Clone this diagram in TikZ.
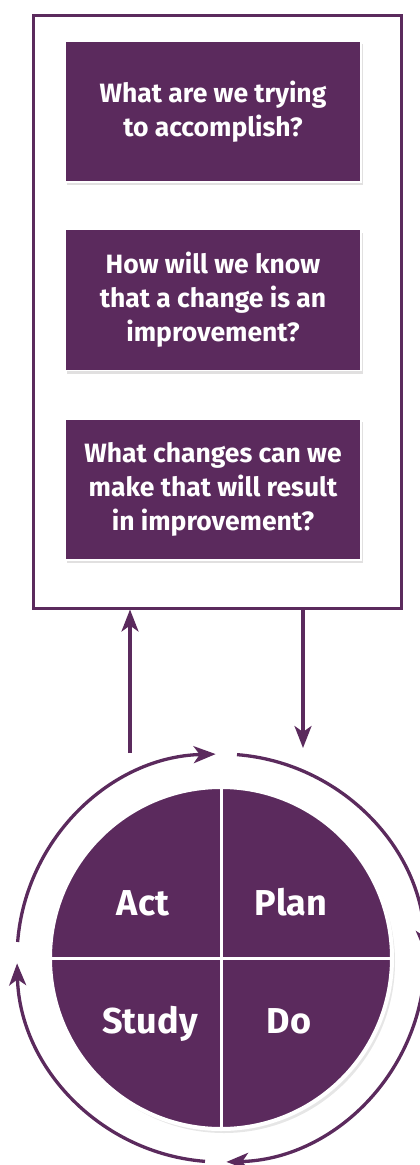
\documentclass[tikz,border=0pt]{standalone}
\usepackage{fontspec}
\setmainfont{Fira Sans}
\usepackage{xcolor}
\usepackage{tikz}
\usetikzlibrary{arrows.meta,positioning,shadows}
\definecolor{ihipurple}{HTML}{5B2A5D}
\definecolor{ihishade}{HTML}{9C9B9B}

\tikzset{
  modelframe/.style={draw=ihipurple, line width=3pt, fill=white,
    minimum width=368, minimum height=593, inner sep=0pt},
  question/.style={fill=ihipurple, draw=white, line width=1.5pt, text=white,
    minimum width=296, minimum height=141, inner sep=0pt, align=center,
    font=\bfseries\fontsize{26.5}{34}\selectfont,
    drop shadow={shadow xshift=2pt, shadow yshift=-3pt, opacity=.3, fill=ihishade}},
  wheel/.style={circle, fill=ihipurple, draw=white, line width=4pt,
    minimum size=342, inner sep=0pt,
    drop shadow={shadow xshift=3pt, shadow yshift=-4pt, opacity=.25, fill=ihishade}},
  quadlabel/.style={text=white, anchor=base, font=\bfseries\fontsize{36}{40}\selectfont},
  flow/.style={ihipurple, line width=3.3pt,
    -{Stealth[length=22pt, width=17pt, inset=6pt]}},
}

\begin{document}
\begin{tikzpicture}[x=1pt,y=1pt]
    \path[use as bounding box, clip] (0,0) rectangle (420,-1165);
    % model for improvement: three questions in a frame
    \node[modelframe] (model) at (217,-311.5) {};
    \node[question] (aim) at (213,-111.5) {What are we trying\\to accomplish?};
    \node[question, below=46pt of aim] (measure) {How will we know\\that a change is an\\improvement?};
    \node[question, below=47pt of measure] (change) {What changes can we\\make that will result\\in improvement?};
    % pdsa wheel
    \node[wheel] (pdsa) at (221,-958) {};
    \draw[white, line width=3pt] (pdsa.north) -- (pdsa.south);
    \draw[white, line width=3pt] (pdsa.west) -- (pdsa.east);
    \node[quadlabel] (act)   at (143,-915)  {Act};
    \node[quadlabel] (plan)  at (291,-915)  {Plan};
    \node[quadlabel] (study) at (150,-1033) {Study};
    \node[quadlabel] (do)    at (289,-1033) {Do};
    % arcs running round the wheel
    \foreach \a in {90,0,-90,-180}
      \draw[flow] ([shift={(\a-4.5:204)}]pdsa.center)
        arc[start angle=\a-4.5, end angle=\a-88.5, radius=204];
    % links between the wheel and the questions
    \coordinate (actout) at (130,-753);
    \coordinate (planin) at (303,-748);
    \draw[flow] (actout) -- (actout |- model.south);
    \draw[flow] (planin |- model.south) -- (planin);
  \end{tikzpicture}
\end{document}
